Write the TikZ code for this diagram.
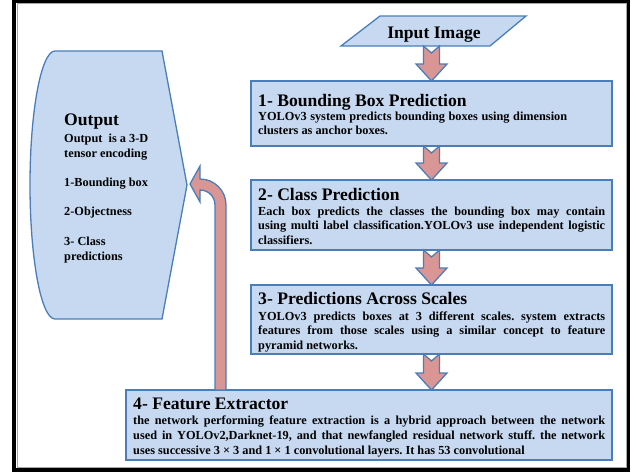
\documentclass[tikz,border=0pt]{standalone}
\usepackage{fontspec}
\setmainfont{Liberation Serif}
\usetikzlibrary{calc}
\definecolor{boxfill}{HTML}{C6D9F1}
\definecolor{boxline}{HTML}{4A7EBB}
\definecolor{arrfill}{HTML}{D99694}
\tikzset{
 box/.style={draw=boxline, fill=boxfill, line width=1.3pt, rectangle, inner sep=0pt, outer sep=0pt, anchor=north west},
 arr/.style={draw=boxline, fill=arrfill, line width=1.3pt, line join=miter},
 headtxt/.style={font=\fontsize{17.6}{20}\selectfont\bfseries, inner sep=0pt, anchor=base west},
 bodytxt/.style={font=\fontsize{12.3}{14}\selectfont\bfseries\frenchspacing, inner sep=0pt, anchor=base west},
}
\newcommand{\blockarr}[2]{%
 \draw[arr] let \p1=(#1), \p2=(#2) in
  (\x1-8pt,\y1) -- (\x1,\y1-7pt) -- (\x1+8pt,\y1) -- (\x1+8pt,\y2+17pt) -- (\x1+15.5pt,\y2+17pt)
  -- (\x1,\y2) -- (\x1-15.5pt,\y2+17pt) -- (\x1-8pt,\y2+17pt) -- cycle;}
\begin{document}
\frenchspacing
\begin{tikzpicture}[x=1pt,y=-1pt]
\useasboundingbox (0,0) rectangle (638,472);
\fill[white] (0,0) rectangle (638,472);
% frame
\draw[line width=3.5pt] (14.2,1.2) rectangle (628.7,469.8);
\draw[gray!70, line width=1pt] (17,3.8) rectangle (626,467);

% output display shape
\draw[box] (55,51) -- (162,51) -- (187,185) -- (162,319) -- (55,319)
  .. controls (41.2,319) and (30,259) .. (30,185)
  .. controls (30,111) and (41.2,51) .. (55,51) -- cycle;
\coordinate (outtip) at (187,185);
\node[headtxt] (outh) at (64,125) {Output};
\node[bodytxt] (o1) at (64,142) {Output~ is a 3-D};
\node[bodytxt] (o2) at (64,157) {tensor encoding};
\node[bodytxt] (o3) at (64,186) {1-Bounding box};
\node[bodytxt] (o4) at (64,215) {2-Objectness};
\node[bodytxt] (o5) at (64,245) {3- Class};
\node[bodytxt] (o6) at (64,260) {predictions};

% input image parallelogram
\draw[box] (380,16) -- (526,16) -- (490,46) -- (341,46) -- cycle;
\node[headtxt, anchor=base] (inp) at (434,38) {Input Image};
\coordinate (inb) at (431.5,46);

% boxes
\node[box, minimum width=361pt, minimum height=65pt] (b1) at (251,81) {};
\node[box, minimum width=361pt, minimum height=70pt] (b2) at (251,180) {};
\node[box, minimum width=361pt, minimum height=69pt] (b3) at (251,285) {};
\node[box, minimum width=486pt, minimum height=70pt] (b4) at (126,390) {};

% arrows
\blockarr{inb}{b1.north}
\blockarr{b1.south}{b2.north}
\blockarr{b2.south}{b3.north}
\blockarr{b3.south}{b4.north}

% feedback arrow
\draw[arr] (215,390) -- (215,205) .. controls (215,196.7) and (208.3,190) .. (200,190)
  -- (200,202) -- (190,184) -- (200,166) -- (200,179)
  .. controls (214.4,179) and (226,190.6) .. (226,205) -- (226,390) -- cycle;

% box texts
\node[headtxt] (h1) at (258,106) {1- Bounding Box Prediction};
\node[bodytxt] (t11) at (258,120) {\makebox[309pt][s]{YOLOv3 system predicts bounding boxes using dimension}};
\node[bodytxt] (t12) at (258,134.5) {clusters as anchor boxes.};

\node[headtxt] (h2) at (258,200) {2- Class Prediction};
\node[bodytxt] (t21) at (258,215) {\makebox[347pt][s]{Each box predicts the classes the bounding box may contain}};
\node[bodytxt] (t22) at (258,229.5) {\makebox[347pt][s]{using multi label classification.YOLOv3 use independent logistic}};
\node[bodytxt] (t23) at (258,244) {classifiers.};

\node[headtxt] (h3) at (258,304) {3- Predictions Across Scales};
\node[bodytxt] (t31) at (258,320) {\makebox[347pt][s]{YOLOv3 predicts boxes at 3 different scales. system extracts}};
\node[bodytxt] (t32) at (258,334.5) {\makebox[347pt][s]{features from those scales using a similar concept to feature}};
\node[bodytxt] (t33) at (258,349) {pyramid networks.};

\node[headtxt] (h4) at (133,409) {4- Feature Extractor};
\node[bodytxt] (t41) at (133,424) {\makebox[472pt][s]{the network performing feature extraction is a hybrid approach between the network}};
\node[bodytxt] (t42) at (133,439) {\makebox[472pt][s]{used in YOLOv2,Darknet-19, and that newfangled residual network stuff. the network}};
\node[bodytxt] (t43) at (133,454) {uses successive 3 × 3 and 1 × 1 convolutional layers. It has 53 convolutional};
\end{tikzpicture}
\end{document}
